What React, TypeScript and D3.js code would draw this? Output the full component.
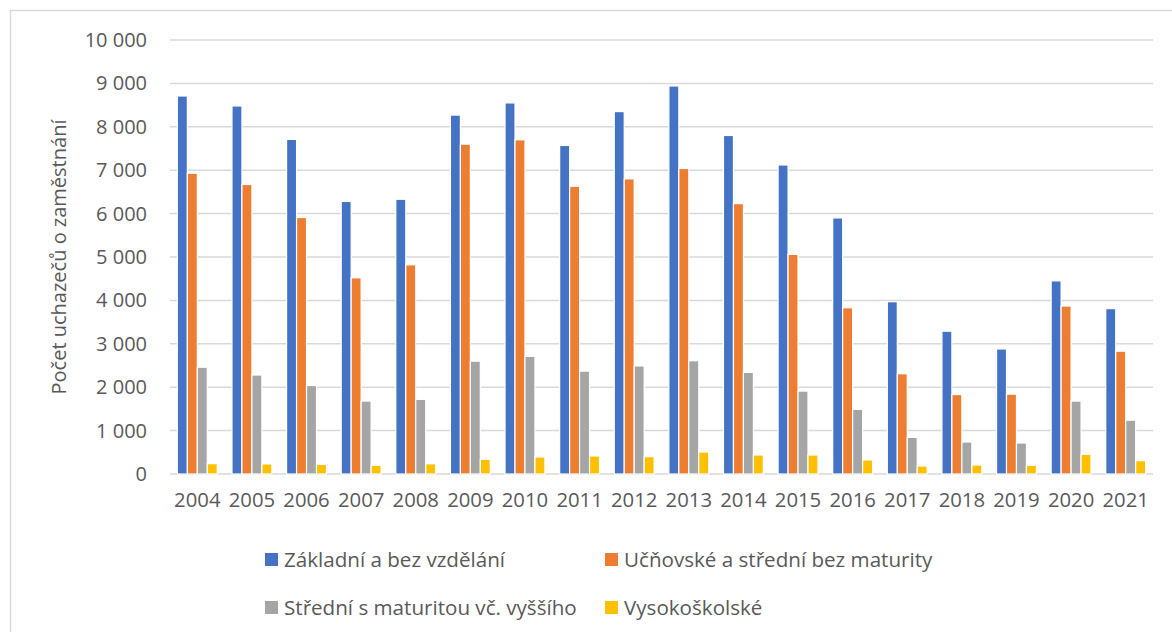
import React from 'react';
import * as d3 from 'd3';

// roky a hodnoty
const years = ['2004', '2005', '2006', '2007', '2008', '2009', '2010', '2011', '2012', '2013', '2014', '2015', '2016', '2017', '2018', '2019', '2020', '2021'];
const zakladni = [8710, 8480, 7710, 6280, 6330, 8270, 8550, 7570, 8350, 8940, 7800, 7120, 5900, 3970, 3290, 2880, 4450, 3810];
const ucnovske = [6930, 6670, 5910, 4520, 4820, 7600, 7700, 6630, 6800, 7040, 6230, 5060, 3830, 2310, 1830, 1840, 3870, 2830];
const stredni = [2460, 2280, 2040, 1680, 1720, 2600, 2710, 2370, 2490, 2610, 2340, 1910, 1490, 845, 737, 714, 1680, 1240];
const vysoke = [238, 232, 223, 200, 235, 338, 392, 415, 400, 507, 438, 438, 323, 184, 207, 200, 453, 307];
const seriesNames = ['Základní a bez vzdělání', 'Učňovské a střední bez maturity', 'Střední s maturitou vč. vyššího', 'Vysokoškolské'];
const colors = ['#4472C4', '#ED7D31', '#A5A5A5', '#FFC000'];
const yTicks = [0, 1000, 2000, 3000, 4000, 5000, 6000, 7000, 8000, 9000, 10000];

const W = 1172;
const H = 632;
const font = '"Open Sans", "Noto Sans", sans-serif';
const textColor = '#595959';

const App = () => {
  const allSeries = [zakladni, ucnovske, stredni, vysoke];
  const left = 170, right = 1153, top = 40, bottom = 474;

  const x0 = d3.scaleBand<string>().domain(years).range([left, right]).paddingInner(0.27).paddingOuter(0.135);
  const x1 = d3.scaleBand<number>().domain([0, 1, 2, 3]).range([0, x0.bandwidth()]);
  const y = d3.scaleLinear().domain([0, 10000]).range([bottom, top]);
  const fmt = (v: number) => d3.format(',')(v).replace(/,/g, ' ');

  const legendItems = [
    { i: 0, x: 265, y: 553 },
    { i: 1, x: 605, y: 553 },
    { i: 2, x: 265, y: 601 },
    { i: 3, x: 605, y: 601 },
  ];

  return (
    <svg width={W} height={H} style={{ position: 'absolute', left: 0, top: 0, background: '#fff' }} fontFamily={font}>
      <rect x={10.5} y={10.5} width={W} height={H} fill="#fff" stroke="#D9D9D9" strokeWidth={1.5} />
      {yTicks.map(t => (
        <g key={t}>
          <line x1={left} x2={right} y1={y(t)} y2={y(t)} stroke="#D9D9D9" strokeWidth={1.5} />
          <text x={147} y={y(t)} dy="0.35em" textAnchor="end" fontSize={20} fill={textColor}>{fmt(t)}</text>
        </g>
      ))}
      {years.map((yr, j) => (
        <g key={yr}>
          {allSeries.map((s, i) => (
            <rect key={i}
              x={(x0(yr) as number) + (x1(i) as number)}
              y={y(s[j])}
              width={x1.bandwidth()}
              height={y(0) - y(s[j])}
              fill={colors[i]}
              stroke="#fff"
              strokeWidth={1.2} />
          ))}
          <text x={(x0(yr) as number) + x0.bandwidth() / 2} y={507} textAnchor="middle" fontSize={20.3} fill={textColor}>{yr}</text>
        </g>
      ))}
      <text transform={`translate(66,${(top + bottom) / 2}) rotate(-90)`} textAnchor="middle" fontSize={20} fill={textColor}>Počet uchazečů o zaměstnání</text>
      {legendItems.map(d => (
        <g key={d.i}>
          <rect x={d.x} y={d.y} width={13} height={13} fill={colors[d.i]} />
          <text x={d.x + 19} y={d.y + 6.5} dy="0.36em" fontSize={20.6} fill={textColor}>{seriesNames[d.i]}</text>
        </g>
      ))}
    </svg>
  );
};

export default App;
